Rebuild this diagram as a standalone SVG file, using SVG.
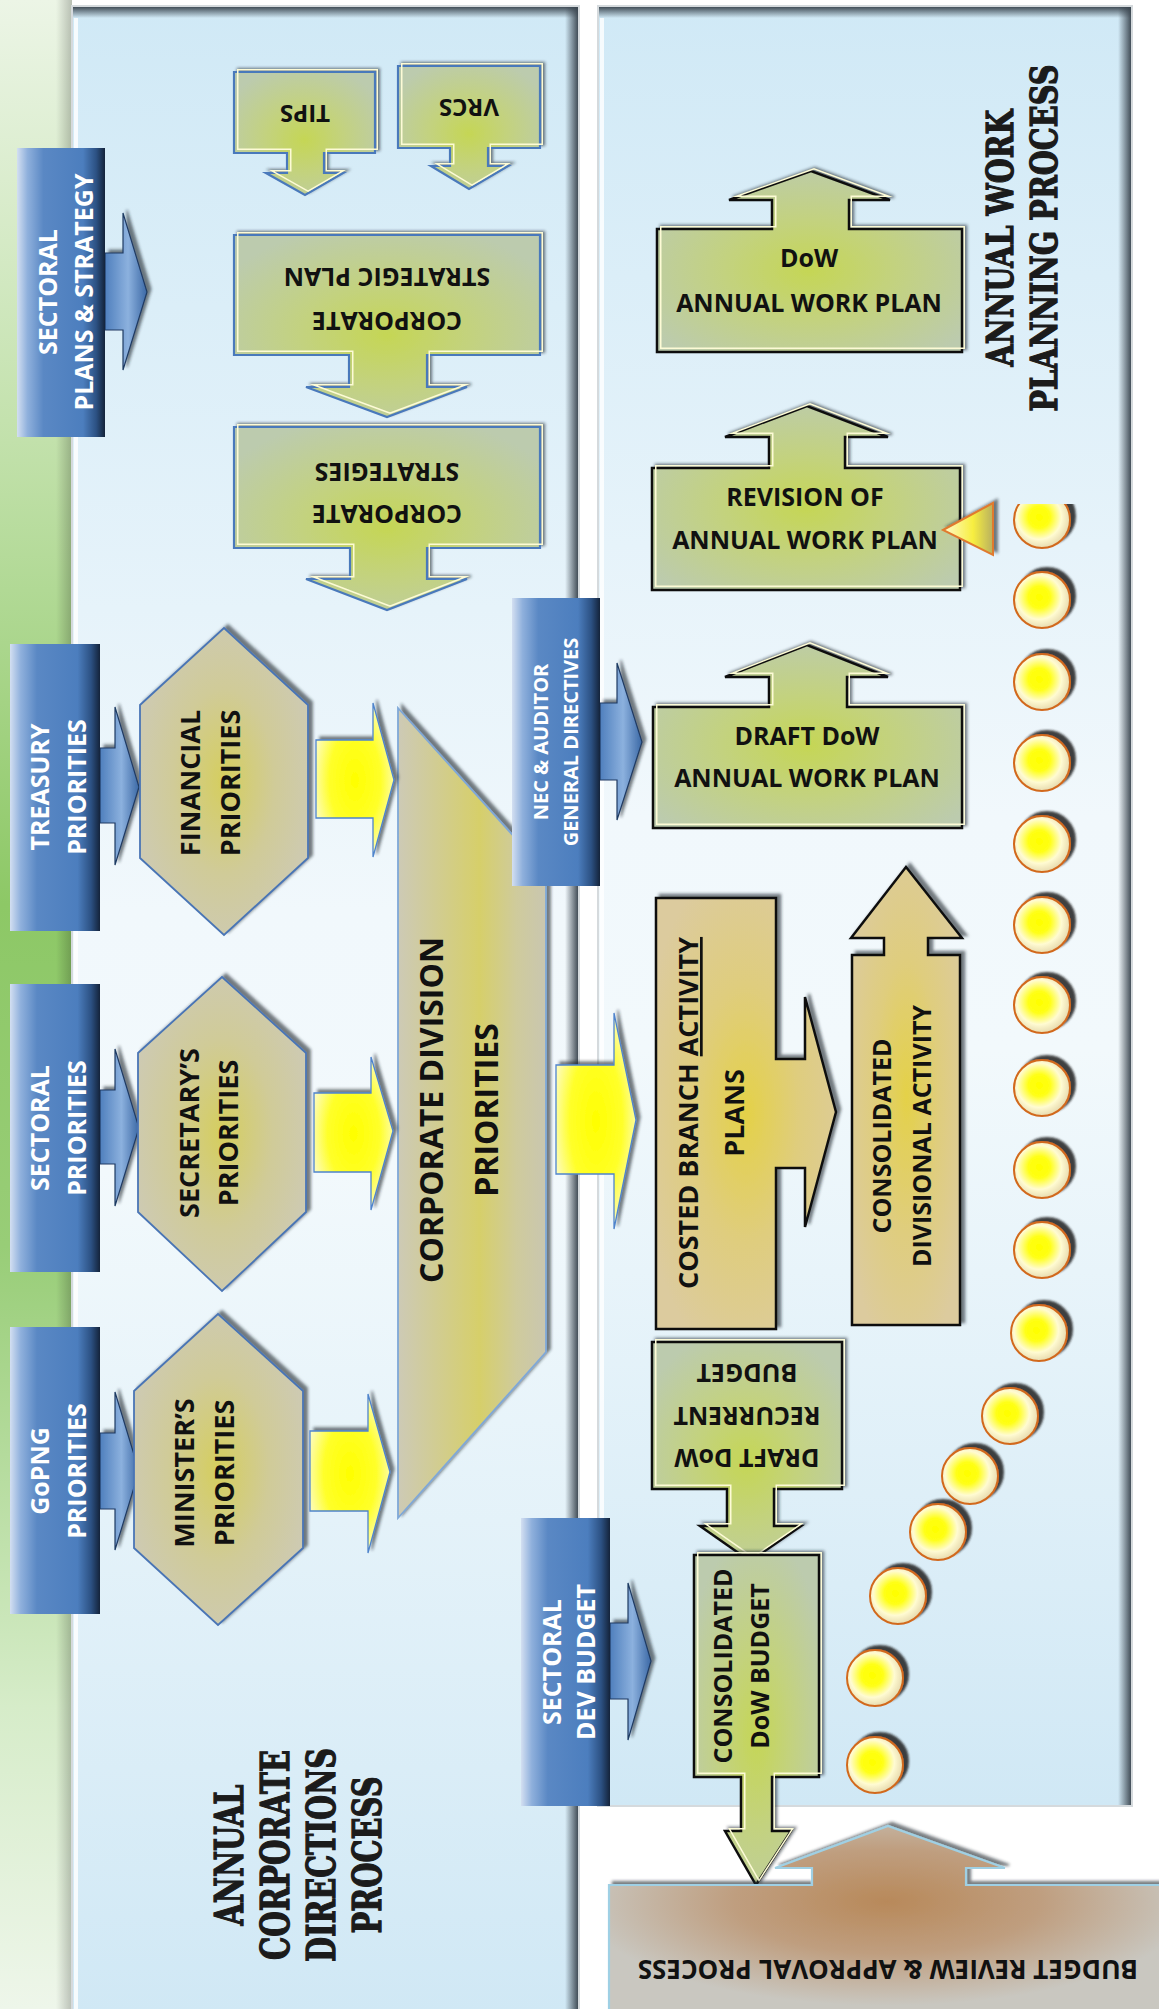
<svg xmlns="http://www.w3.org/2000/svg" width="1159" height="2009" viewBox="0 0 1159 2009">
<defs>
  <linearGradient id="gStrip" x1="0" y1="0" x2="0" y2="1">
    <stop offset="0" stop-color="#ecf5e6"/>
    <stop offset="0.22" stop-color="#c2e1ab"/>
    <stop offset="0.45" stop-color="#8dc866"/>
    <stop offset="0.62" stop-color="#98cd77"/>
    <stop offset="0.85" stop-color="#d6ecc9"/>
    <stop offset="1" stop-color="#eef6ea"/>
  </linearGradient>
  <linearGradient id="gStripEdge" x1="0" y1="0" x2="1" y2="0">
    <stop offset="0" stop-color="#000" stop-opacity="0"/>
    <stop offset="1" stop-color="#000" stop-opacity="0.22"/>
  </linearGradient>
  <linearGradient id="gPanel" x1="0" y1="0" x2="0" y2="1">
    <stop offset="0" stop-color="#d0e9f6"/>
    <stop offset="0.45" stop-color="#f1f8fc"/>
    <stop offset="0.58" stop-color="#f2f9fc"/>
    <stop offset="1" stop-color="#d0e8f5"/>
  </linearGradient>
  <linearGradient id="gTopBand" x1="0" y1="0" x2="0" y2="1">
    <stop offset="0" stop-color="#3b4650" stop-opacity="0.95"/>
    <stop offset="1" stop-color="#3b4650" stop-opacity="0"/>
  </linearGradient>
  <linearGradient id="gRightBand" x1="0" y1="0" x2="1" y2="0">
    <stop offset="0" stop-color="#3b4650" stop-opacity="0"/>
    <stop offset="1" stop-color="#3b4650" stop-opacity="0.95"/>
  </linearGradient>
  <linearGradient id="gBlue" x1="0" y1="0" x2="1" y2="0">
    <stop offset="0" stop-color="#d3dff1"/>
    <stop offset="0.12" stop-color="#8fb0dc"/>
    <stop offset="0.3" stop-color="#5a88c4"/>
    <stop offset="0.75" stop-color="#4c7ebe"/>
    <stop offset="0.9" stop-color="#2c5183"/>
    <stop offset="1" stop-color="#14233a"/>
  </linearGradient>
  <linearGradient id="gBlueArr" x1="0" y1="0" x2="1" y2="0">
    <stop offset="0" stop-color="#4f7fbd"/>
    <stop offset="0.55" stop-color="#8cb1de"/>
    <stop offset="1" stop-color="#3b68a5"/>
  </linearGradient>
  <radialGradient id="gGreen" cx="0.5" cy="0.55" r="0.62">
    <stop offset="0" stop-color="#c5d655"/>
    <stop offset="0.45" stop-color="#c3d27f"/>
    <stop offset="1" stop-color="#bccbae"/>
  </radialGradient>
  <radialGradient id="gHex" cx="0.5" cy="0.5" r="0.6">
    <stop offset="0" stop-color="#d5ce5e"/>
    <stop offset="0.5" stop-color="#d0cb98"/>
    <stop offset="1" stop-color="#cdcab8"/>
  </radialGradient>
  <linearGradient id="gTrap" x1="0" y1="0" x2="1" y2="0">
    <stop offset="0" stop-color="#cdcab6"/>
    <stop offset="0.55" stop-color="#d6cf6a"/>
    <stop offset="0.8" stop-color="#cfcb9c"/>
    <stop offset="1" stop-color="#c9c6b0"/>
  </linearGradient>
  <radialGradient id="gYel" cx="0.5" cy="0.5" r="0.6">
    <stop offset="0" stop-color="#ffff00"/>
    <stop offset="0.55" stop-color="#ffff2a"/>
    <stop offset="1" stop-color="#fdfbe2"/>
  </radialGradient>
  <radialGradient id="gTan" cx="0.5" cy="0.5" r="0.6">
    <stop offset="0" stop-color="#e4d148"/>
    <stop offset="0.5" stop-color="#dfcd7e"/>
    <stop offset="1" stop-color="#dccb9e"/>
  </radialGradient>
  <radialGradient id="gBud" cx="0.5" cy="0.4" r="0.55">
    <stop offset="0" stop-color="#b8895a"/>
    <stop offset="0.5" stop-color="#bf9e7f"/>
    <stop offset="1" stop-color="#c9c7c0"/>
  </radialGradient>
  <radialGradient id="gCirc" cx="0.45" cy="0.45" r="0.55">
    <stop offset="0" stop-color="#ffff00"/>
    <stop offset="0.35" stop-color="#ffff14"/>
    <stop offset="0.72" stop-color="#fffbd2"/>
    <stop offset="1" stop-color="#e8dcb0"/>
  </radialGradient>
  <linearGradient id="gTri" x1="0" y1="0" x2="1" y2="0">
    <stop offset="0" stop-color="#fffbd0"/>
    <stop offset="0.6" stop-color="#f7ee40"/>
    <stop offset="1" stop-color="#b8b060"/>
  </linearGradient>
  <filter id="sh" x="-15%" y="-15%" width="135%" height="135%">
    <feDropShadow dx="4" dy="-3" stdDeviation="1.5" flood-color="#1e252d" flood-opacity="0.6"/>
  </filter>
  <filter id="shc" x="-30%" y="-30%" width="170%" height="170%">
    <feDropShadow dx="5" dy="-4" stdDeviation="1.2" flood-color="#222" flood-opacity="0.85"/>
  </filter>
  <path id="pTips" d="M234,72 H375 V153 H324 V173 H343 L305,195 L266,173 H287 V153 H234 Z"/>
  <path id="pVrcs" d="M398,66 H540 V148 H488 V166 H508 L469,189 L431,166 H450 V148 H398 Z"/>
  <path id="pCsp" d="M234,235 H540 V355 H427 V387 H467 L387,417 L306,387 H349 V355 H234 Z"/>
  <path id="pCs" d="M234,427 H540 V548 H427 V579 H467 L387,610 L306,579 H350 V548 H234 Z"/>
  <path id="pDow" d="M657,352 V229 H772 V200 H729 L811,171 L890,200 H849 V229 H962 V352 Z"/>
  <path id="pRev" d="M652,590 V468 H769 V437 H725 L807,406 L888,437 H845 V468 H960 V590 Z"/>
  <path id="pDraft" d="M653,828 V707 H769 V677 H725 L807,645 L888,677 H847 V707 H962 V828 Z"/>
  <path id="pRec" d="M652,1342 H842 V1489 H774 V1526 H801 L750,1561 L700,1526 H727 V1489 H652 Z"/>
  <path id="pConsBud" d="M694,1555 H819 V1777 H772 V1831 H791 L756,1885 L725,1831 H741 V1777 H694 Z"/>
  <clipPath id="cTips"><use href="#pTips"/></clipPath>
  <clipPath id="cVrcs"><use href="#pVrcs"/></clipPath>
  <clipPath id="cCsp"><use href="#pCsp"/></clipPath>
  <clipPath id="cCs"><use href="#pCs"/></clipPath>
  <clipPath id="cDow"><use href="#pDow"/></clipPath>
  <clipPath id="cRev"><use href="#pRev"/></clipPath>
  <clipPath id="cDraft"><use href="#pDraft"/></clipPath>
  <clipPath id="cRec"><use href="#pRec"/></clipPath>
  <clipPath id="cConsBud"><use href="#pConsBud"/></clipPath>
  <clipPath id="cFirst"><rect x="990" y="504" width="100" height="80"/></clipPath>
  <style>
    .w { font-family: "Open Sans", "Liberation Sans", sans-serif; font-weight: 700; fill: #ffffff; text-anchor: middle; }
    .k { font-family: "Open Sans", "Liberation Sans", sans-serif; font-weight: 700; fill: #111111; text-anchor: middle; }
    .st { font-family: "DejaVu Serif", "Liberation Serif", serif; font-weight: 700; fill: #1b1b1b; stroke: #1b1b1b; stroke-width: 1.3; text-anchor: middle; }
    .bbox { fill: url(#gBlue); }
    .barr { fill: url(#gBlueArr); stroke: #1f3a62; stroke-width: 1.2; filter: url(#sh); }
    .gl { fill: url(#gGreen); stroke: #4a79bb; stroke-width: 2.2; filter: url(#sh); }
    .gr { fill: url(#gGreen); stroke: #111; stroke-width: 2.5; filter: url(#sh); }
    .hl { fill: none; stroke: #fdfbd6; stroke-width: 3; }
    .hex { fill: url(#gHex); stroke: #4a75b5; stroke-width: 1.8; filter: url(#sh); }
    .yel { fill: url(#gYel); stroke: #4f84cc; stroke-width: 1.3; filter: url(#sh); }
    .tan { fill: url(#gTan); stroke: #111; stroke-width: 2.5; filter: url(#sh); }
    .dot { fill: url(#gCirc); stroke: #d2691e; stroke-width: 2; filter: url(#shc); }
  </style>
</defs>

<rect x="0" y="0" width="1159" height="2009" fill="#ffffff"/>

<g id="background">
  <rect x="0" y="0" width="72" height="2009" fill="url(#gStrip)"/>
  <rect x="56" y="0" width="16" height="2009" fill="url(#gStripEdge)"/>
  <g id="panel-acdp">
    <rect x="72" y="6" width="507" height="2010" fill="url(#gPanel)" stroke="#d5dadd" stroke-width="2"/>
    <rect x="73" y="7" width="505" height="11" fill="url(#gTopBand)"/>
    <rect x="565" y="7" width="13" height="2005" fill="url(#gRightBand)"/>
    <rect x="74" y="18" width="4" height="1995" fill="#ffffff" opacity="0.8"/>
  </g>
  <g id="panel-awpp">
    <rect x="598" y="6" width="534" height="1800" fill="url(#gPanel)" stroke="#d5dadd" stroke-width="2"/>
    <rect x="599" y="7" width="532" height="11" fill="url(#gTopBand)"/>
    <rect x="1118" y="7" width="13" height="1798" fill="url(#gRightBand)"/>
    <rect x="600" y="18" width="4" height="1786" fill="#ffffff" opacity="0.8"/>
  </g>
  <text class="st" font-size="40" textLength="141" lengthAdjust="spacingAndGlyphs" transform="translate(243 1855) rotate(-90)">ANNUAL</text>
  <text class="st" font-size="40" textLength="210" lengthAdjust="spacingAndGlyphs" transform="translate(289 1855) rotate(-90)">CORPORATE</text>
  <text class="st" font-size="40" textLength="214" lengthAdjust="spacingAndGlyphs" transform="translate(335 1855) rotate(-90)">DIRECTIONS</text>
  <text class="st" font-size="40" textLength="157" lengthAdjust="spacingAndGlyphs" transform="translate(381 1855) rotate(-90)">PROCESS</text>
  <text class="st" font-size="38" textLength="257" lengthAdjust="spacingAndGlyphs" transform="translate(1013 238) rotate(-90)">ANNUAL WORK</text>
  <text class="st" font-size="38" textLength="347" lengthAdjust="spacingAndGlyphs" transform="translate(1057 238) rotate(-90)">PLANNING PROCESS</text>
</g>

<g id="n-sps">
  <path class="barr" d="M105,253 H123 V213 L147,292 L123,370 V330 H105 Z"/>
  <rect class="bbox" x="17" y="148" width="88" height="289"/>
  <text class="w" font-size="25" transform="translate(57 292) rotate(-90)">SECTORAL</text>
  <text class="w" font-size="25" transform="translate(93 292) rotate(-90)">PLANS &amp; STRATEGY</text>
</g>

<g id="n-tips">
  <use href="#pTips" class="gl"/>
  <use href="#pTips" class="hl" clip-path="url(#cTips)" transform="translate(3 -3)"/>
  <text class="k" font-size="24" transform="translate(305 105) rotate(180)">TIPS</text>
</g>
<g id="n-vrcs">
  <use href="#pVrcs" class="gl"/>
  <use href="#pVrcs" class="hl" clip-path="url(#cVrcs)" transform="translate(3 -3)"/>
  <text class="k" font-size="24" transform="translate(469 99) rotate(180)">VRCS</text>
</g>
<g id="n-csp">
  <use href="#pCsp" class="gl"/>
  <use href="#pCsp" class="hl" clip-path="url(#cCsp)" transform="translate(3 -3)"/>
  <text class="k" font-size="25" transform="translate(387 312) rotate(180)">CORPORATE</text>
  <text class="k" font-size="25" transform="translate(387 268) rotate(180)">STRATEGIC PLAN</text>
</g>
<g id="n-cs">
  <use href="#pCs" class="gl"/>
  <use href="#pCs" class="hl" clip-path="url(#cCs)" transform="translate(3 -3)"/>
  <text class="k" font-size="25" transform="translate(387 505) rotate(180)">CORPORATE</text>
  <text class="k" font-size="25" transform="translate(387 463) rotate(180)">STRATEGIES</text>
</g>

<g id="n-treasury">
  <path class="barr" d="M100,748 H115 V707 L139,787 L115,865 V823 H100 Z"/>
  <rect class="bbox" x="10" y="644" width="90" height="287"/>
  <text class="w" font-size="25" transform="translate(49 787) rotate(-90)">TREASURY</text>
  <text class="w" font-size="25" transform="translate(86 787) rotate(-90)">PRIORITIES</text>
</g>
<g id="n-sectoral">
  <path class="barr" d="M100,1090 H115 V1049 L139,1128 L115,1206 V1164 H100 Z"/>
  <rect class="bbox" x="10" y="984" width="90" height="288"/>
  <text class="w" font-size="25" transform="translate(49 1128) rotate(-90)">SECTORAL</text>
  <text class="w" font-size="25" transform="translate(86 1128) rotate(-90)">PRIORITIES</text>
</g>
<g id="n-gopng">
  <path class="barr" d="M100,1433 H115 V1392 L139,1471 L115,1550 V1509 H100 Z"/>
  <rect class="bbox" x="10" y="1327" width="90" height="287"/>
  <text class="w" font-size="25" transform="translate(49 1471) rotate(-90)">GoPNG</text>
  <text class="w" font-size="25" transform="translate(86 1471) rotate(-90)">PRIORITIES</text>
</g>

<g id="n-financial">
  <path class="hex" d="M224,628 L308,705 V858 L224,935 L140,858 V705 Z"/>
  <text class="k" font-size="27" transform="translate(200 783) rotate(-90)">FINANCIAL</text>
  <text class="k" font-size="27" transform="translate(240 783) rotate(-90)">PRIORITIES</text>
</g>
<g id="n-secretary">
  <path class="hex" d="M222,977 L306,1053 V1212 L222,1291 L138,1212 V1053 Z"/>
  <text class="k" font-size="27" transform="translate(199 1133) rotate(-90)">SECRETARY’S</text>
  <text class="k" font-size="27" transform="translate(238 1133) rotate(-90)">PRIORITIES</text>
</g>
<g id="n-minister">
  <path class="hex" d="M218,1314 L303,1391 V1548 L218,1625 L134,1548 V1391 Z"/>
  <text class="k" font-size="27" transform="translate(194 1473) rotate(-90)">MINISTER’S</text>
  <text class="k" font-size="27" transform="translate(234 1473) rotate(-90)">PRIORITIES</text>
</g>

<g id="n-corpdiv">
  <path d="M398,708 L546,872 V1352 L398,1518 Z" fill="url(#gTrap)" stroke="#7fa8d8" stroke-width="1.8" filter="url(#sh)"/>
  <text class="k" font-size="32" transform="translate(443 1110) rotate(-90)">CORPORATE DIVISION</text>
  <text class="k" font-size="32" transform="translate(498 1110) rotate(-90)">PRIORITIES</text>
</g>

<g id="n-nec">
  <path class="barr" d="M600,703 H617 V663 L642,742 L617,820 V780 H600 Z"/>
  <rect class="bbox" x="512" y="598" width="88" height="288"/>
  <text class="w" font-size="20" transform="translate(548 742) rotate(-90)">NEC &amp; AUDITOR</text>
  <text class="w" font-size="20" transform="translate(578 742) rotate(-90)">GENERAL DIRECTIVES</text>
</g>

<g id="n-devbudget">
  <path class="barr" d="M610,1623 H628 V1583 L651,1661 L628,1740 V1699 H610 Z"/>
  <rect class="bbox" x="521" y="1518" width="89" height="288"/>
  <text class="w" font-size="25" transform="translate(561 1662) rotate(-90)">SECTORAL</text>
  <text class="w" font-size="25" transform="translate(595 1662) rotate(-90)">DEV BUDGET</text>
</g>

<g id="n-dow-awp">
  <use href="#pDow" class="gr"/>
  <use href="#pDow" class="hl" clip-path="url(#cDow)" transform="translate(3 -3)"/>
  <text class="k" font-size="25" x="809" y="267">DoW</text>
  <text class="k" font-size="25" x="809" y="312">ANNUAL WORK PLAN</text>
</g>
<g id="n-revision">
  <use href="#pRev" class="gr"/>
  <use href="#pRev" class="hl" clip-path="url(#cRev)" transform="translate(3 -3)"/>
  <text class="k" font-size="25" x="805" y="506">REVISION OF</text>
  <text class="k" font-size="25" x="805" y="549">ANNUAL WORK PLAN</text>
</g>
<g id="n-draft-awp">
  <use href="#pDraft" class="gr"/>
  <use href="#pDraft" class="hl" clip-path="url(#cDraft)" transform="translate(3 -3)"/>
  <text class="k" font-size="25" x="807" y="745">DRAFT DoW</text>
  <text class="k" font-size="25" x="807" y="787">ANNUAL WORK PLAN</text>
</g>

<g id="n-costed">
  <path class="tan" d="M656,898 H776 V1059 H805 V997 L836,1112 L805,1227 V1168 H776 V1329 H656 Z"/>
  <text class="k" font-size="27" transform="translate(698 1113) rotate(-90)">COSTED BRANCH <tspan text-decoration="underline">ACTIVITY</tspan></text>
  <text class="k" font-size="27" transform="translate(744 1113) rotate(-90)">PLANS</text>
</g>
<g id="n-consdiv">
  <path class="tan" d="M852,1325 V955 H884 V938 H851 L906,867 L962,938 H928 V955 H960 V1325 Z"/>
  <text class="k" font-size="25" transform="translate(891 1136) rotate(-90)">CONSOLIDATED</text>
  <text class="k" font-size="25" transform="translate(931 1136) rotate(-90)">DIVISIONAL ACTIVITY</text>
</g>

<g id="n-recurrent">
  <use href="#pRec" class="gr"/>
  <use href="#pRec" class="hl" clip-path="url(#cRec)" transform="translate(3 -3)"/>
  <text class="k" font-size="25" transform="translate(747 1449) rotate(180)">DRAFT DoW</text>
  <text class="k" font-size="25" transform="translate(747 1407) rotate(180)">RECURRENT</text>
  <text class="k" font-size="25" transform="translate(747 1364) rotate(180)">BUDGET</text>
</g>
<g id="n-consbudget">
  <use href="#pConsBud" class="gr"/>
  <use href="#pConsBud" class="hl" clip-path="url(#cConsBud)" transform="translate(3 -3)"/>
  <text class="k" font-size="25" transform="translate(732 1666) rotate(-90)">CONSOLIDATED</text>
  <text class="k" font-size="25" transform="translate(769 1666) rotate(-90)">DoW BUDGET</text>
</g>

<g id="n-budget-review">
  <path d="M609,2015 V1885 H812 V1868 H775 L888,1826 L1005,1868 H966 V1885 H1165 V2015 Z" fill="url(#gBud)" stroke="#9fd0e4" stroke-width="2.2" filter="url(#sh)"/>
  <text class="k" font-size="26" transform="translate(888 1960) rotate(180)">BUDGET REVIEW &amp; APPROVAL PROCESS</text>
</g>

<g id="connectors">
  <path id="c-fin-corp" class="yel" d="M316,740 H373 V703 L394,780 L373,857 V818 H316 Z"/>
  <path id="c-sec-corp" class="yel" d="M314,1093 H371 V1057 L393,1131 L371,1210 V1172 H314 Z"/>
  <path id="c-min-corp" class="yel" d="M310,1431 H368 V1394 L390,1472 L368,1553 V1511 H310 Z"/>
  <path id="c-corp-costed" class="yel" d="M556,1065 H614 V1013 L636,1120 L614,1229 V1174 H556 Z"/>
  <path id="c-dots-rev" d="M943,530 L993,503 V555 Z" fill="url(#gTri)" stroke="#e07a2e" stroke-width="2" filter="url(#sh)"/>
</g>

<g id="dots">
  <g clip-path="url(#cFirst)"><circle class="dot" cx="1042" cy="520" r="28"/></g>
  <circle class="dot" cx="1042" cy="600" r="28"/>
  <circle class="dot" cx="1042" cy="682" r="28"/>
  <circle class="dot" cx="1042" cy="763" r="28"/>
  <circle class="dot" cx="1042" cy="844" r="28"/>
  <circle class="dot" cx="1042" cy="925" r="28"/>
  <circle class="dot" cx="1042" cy="1005" r="28"/>
  <circle class="dot" cx="1042" cy="1088" r="28"/>
  <circle class="dot" cx="1042" cy="1170" r="28"/>
  <circle class="dot" cx="1042" cy="1250" r="28"/>
  <circle class="dot" cx="1039" cy="1333" r="28"/>
  <circle class="dot" cx="1010" cy="1416" r="28"/>
  <circle class="dot" cx="970" cy="1476" r="28"/>
  <circle class="dot" cx="938" cy="1532" r="28"/>
  <circle class="dot" cx="898" cy="1596" r="28"/>
  <circle class="dot" cx="875" cy="1678" r="28"/>
  <circle class="dot" cx="875" cy="1765" r="28"/>
</g>
</svg>
